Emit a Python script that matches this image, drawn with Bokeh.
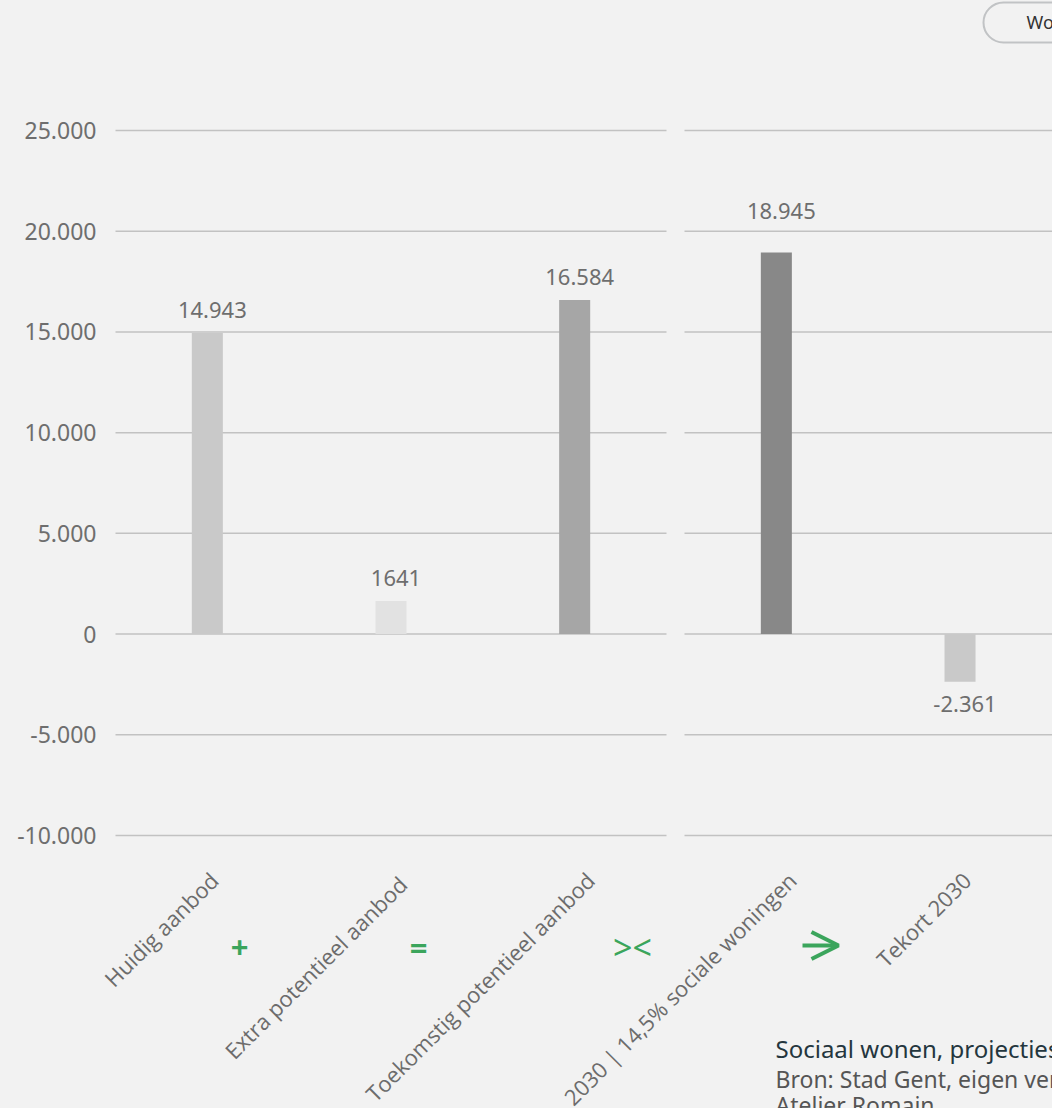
import math
from bokeh.plotting import figure
from bokeh.models import (ColumnDataSource, Range1d, Label, LabelSet,
                          BoxAnnotation, Arrow, OpenHead)
from bokeh.core.properties import value
from bokeh.embed import file_html
from bokeh.resources import INLINE

# ---------------- data ----------------
categories = ["Huidig aanbod", "Extra  potentieel aanbod", "Toekomstig potentieel aanbod",
              "2030 | 14,5% sociale woningen", "Tekort 2030"]
values = [14943, 1641, 16584, 18945, -2361]
value_labels = ["14.943", "1641", "16.584", "18.945", "-2.361"]
panel = [0, 0, 0, 1, 1]
slot = [0, 1, 2, 0, 1]
y_ticks = [-10000, -5000, 0, 5000, 10000, 15000, 20000, 25000]
y_tick_labels = ["-10.000", "-5.000", "0", "5.000", "10.000", "15.000", "20.000", "25.000"]
operators = ["+", "=", "><"]
title_lines = ["Sociaal wonen, projecties", "Bron: Stad Gent, eigen verwerking", "Atelier Romain"]
button_text = "Woningen"

# ---------------- style / layout ----------------
bar_colors = ["#c9c9c9", "#e2e2e2", "#a6a6a6", "#888888", "#c9c9c9"]
label_offsets = [-23, -23, -23, -41, 22]
cat_label_shift = [-4, 5, 5, 5, -4]
BG = "#f2f2f2"
GRID = "#c2c2c2"
TXT = "#6e6e6e"
GREEN = "#3ba55c"
FONT = "Noto Sans"

W, H = 1052, 1108
PX = 183.67               # pixels per category slot
FRAME_LEFT = 115          # left edge of the first panel
PANEL_SHIFT = 3 + 18 / PX # second panel starts after a small gap
PX_PER_UNIT = 705 / 35000 # vertical scale
Y_TOP = 25000 + 130 / PX_PER_UNIT
Y_BOT = -10000 - (H - 835) / PX_PER_UNIT

p = figure(width=W, height=H,
           x_range=Range1d(-FRAME_LEFT / PX, (W - FRAME_LEFT) / PX),
           y_range=Range1d(Y_BOT, Y_TOP),
           output_backend="svg", toolbar_location=None,
           min_border=0, background_fill_color=BG, border_fill_color=BG,
           outline_line_color=None)
p.axis.visible = False
p.grid.visible = False

# grid lines per panel
panel_spans = [(0, 3), (PANEL_SHIFT, PANEL_SHIFT + 2.5)]
gx0, gx1, gy = [], [], []
for a, b in panel_spans:
    for t in y_ticks:
        gx0.append(a); gx1.append(b); gy.append(t)
p.segment(x0=gx0, x1=gx1, y0=gy, y1=gy, line_color=GRID, line_width=1.5)

# y tick labels
p.text(x=[0] * len(y_ticks), y=y_ticks, text=y_tick_labels, x_offset=-19,
       text_align="right", text_baseline="middle", text_font=value(FONT),
       text_font_size="23px", text_color=TXT)

xs = [s + 0.5 + pn * PANEL_SHIFT for s, pn in zip(slot, panel)]
src = ColumnDataSource(dict(
    x=xs, top=values, color=bar_colors, label=value_labels, off=label_offsets,
    cat=categories, cshift=cat_label_shift, ly=[865] * len(values),
))
p.vbar(x="x", top="top", bottom=0, width=0.169, fill_color="color", line_color=None, source=src)
p.text(x="x", y="top", text="label", source=src, text_align="center", text_baseline="middle",
       x_offset=5, y_offset="off", text_font=value(FONT), text_font_size="22px", text_color=TXT)

p.add_layout(LabelSet(x="x", y="ly", y_units="canvas", text="cat", source=src, angle=math.pi / 4,
                      text_align="right", text_baseline="top", x_offset="cshift",
                      text_font=value("Open Sans"), text_font_size="22px", text_color="#6c6c6c"))

# operators between categories
for txt, cx in zip(operators, [239, 418, 632]):
    p.add_layout(Label(x=cx, y=946, x_units="canvas", y_units="canvas", text=txt,
                       text_align="center", text_baseline="middle",
                       text_font=FONT, text_font_size="31px" if txt != "><" else "34px",
                       text_font_style="bold" if txt != "><" else "normal",
                       text_color=GREEN))
p.add_layout(Arrow(x_start=802, y_start=945, x_end=838, y_end=945,
                   start_units="canvas", end_units="canvas",
                   line_color=GREEN, line_width=4,
                   end=OpenHead(size=27, line_width=4, line_color=GREEN)))

# title / source block
for txt, cy, col, fs in zip(title_lines, [1048, 1078, 1104],
                            ["#24363e", "#555555", "#555555"],
                            ["24px", "23px", "23px"]):
    p.add_layout(Label(x=775, y=cy, x_units="canvas", y_units="canvas", text=txt,
                       text_align="left", text_baseline="middle",
                       text_font=FONT, text_font_size=fs, text_color=col))

# top-right button
p.add_layout(BoxAnnotation(left=983, right=1120, top=2, bottom=42,
                           left_units="canvas", right_units="canvas",
                           top_units="canvas", bottom_units="canvas",
                           fill_color=BG, fill_alpha=1, line_color="#50575c",
                           line_width=2, border_radius=20))
p.add_layout(Label(x=1026, y=21, x_units="canvas", y_units="canvas", text=button_text,
                   text_align="left", text_baseline="middle",
                   text_font=FONT, text_font_size="18px", text_color="#333333"))

html = file_html(p, INLINE, title="Sociaal wonen, projecties")
html = html.replace("</head>", "<style>html,body{background:#f2f2f2;}</style></head>", 1)
open("out.html", "w").write(html)
